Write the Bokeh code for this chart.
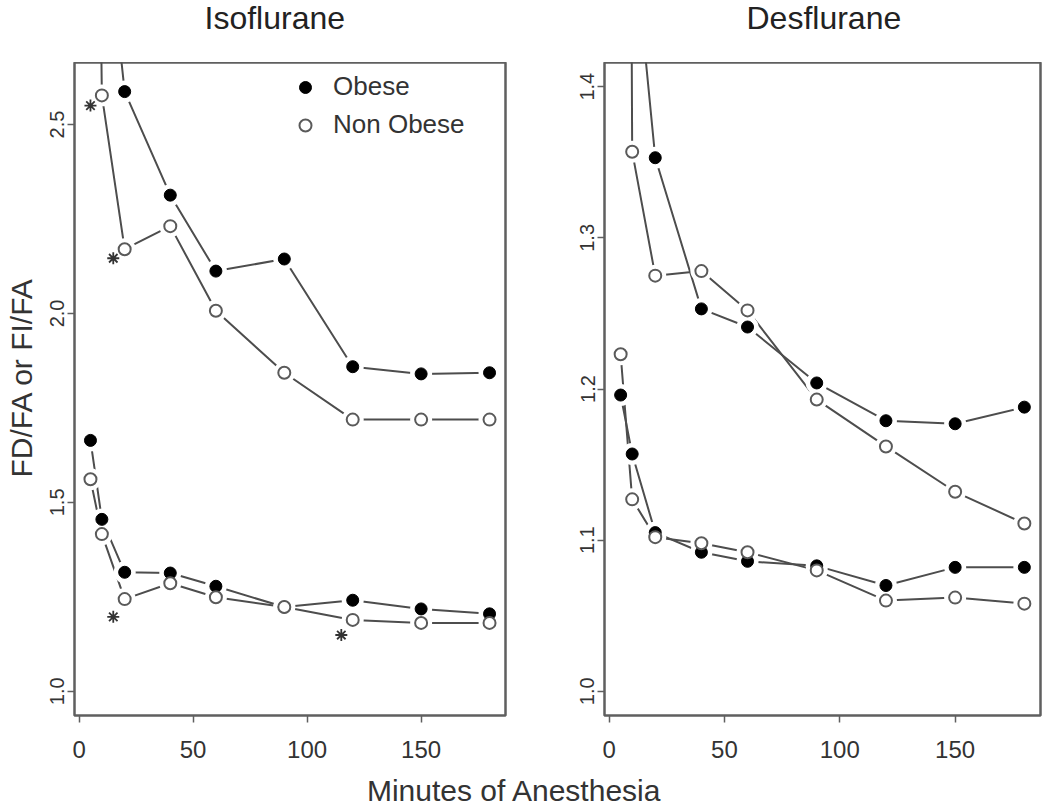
import math
from bokeh.plotting import figure
from bokeh.models import Range1d, FixedTicker, Legend, LegendItem, Label, NumeralTickFormatter
from bokeh.layouts import column, row
from bokeh.embed import file_html
from bokeh.resources import INLINE

# ---------------- data ----------------
minutes = [5, 10, 20, 40, 60, 90, 120, 150, 180]

iso_fi_obese = [5.5, 3.15, 2.587, 2.313, 2.112, 2.144, 1.859, 1.840, 1.843]
iso_fi_non = [5.0, 2.577, 2.170, 2.231, 2.007, 1.843, 1.719, 1.719, 1.719]
iso_fd_obese = [1.664, 1.455, 1.315, 1.313, 1.278, 1.223, 1.241, 1.218, 1.205]
iso_fd_non = [1.561, 1.416, 1.244, 1.286, 1.249, 1.223, 1.189, 1.181, 1.181]

des_fi_obese = [2.5, 1.51, 1.353, 1.253, 1.241, 1.204, 1.179, 1.177, 1.188]
des_fi_non = [3.0, 1.357, 1.275, 1.278, 1.252, 1.193, 1.162, 1.132, 1.111]
des_fd_obese = [1.196, 1.157, 1.105, 1.092, 1.086, 1.083, 1.070, 1.082, 1.082]
des_fd_non = [1.223, 1.127, 1.102, 1.098, 1.092, 1.080, 1.060, 1.062, 1.058]

iso_star_x = [5, 15, 15, 115]
iso_star_y = [2.55, 2.146, 1.197, 1.149]

x_ticks = [0, 50, 100, 150]
iso_y_ticks = [1.0, 1.5, 2.0, 2.5]
des_y_ticks = [1.0, 1.1, 1.2, 1.3, 1.4]
x_lim = (5, 180)
iso_y_lim = (1.0, 2.6)
des_y_lim = (1.0, 1.4)

titles = ["Isoflurane", "Desflurane"]
y_label = "FD/FA or FI/FA"
x_label = "Minutes of Anesthesia"
legend_labels = ["Obese", "Non Obese"]

FONT = "Liberation Sans"
LINE_C = "#4d4d4d"
OPEN_C = "#5a5a5a"
BOX_C = "#5f5f5f"
TOTAL_W = 1048
TOP_H = 62
FRAME_H = 653
BOTTOM_B = 53
YLAB_W = 40


def ext(lim):
    d = (lim[1] - lim[0]) * 0.04
    return Range1d(lim[0] - d, lim[1] + d)


def text_fig(w, h):
    f = figure(frame_width=w, frame_height=h, x_range=Range1d(0, w), y_range=Range1d(0, h),
               output_backend="svg", toolbar_location=None, min_border=0,
               background_fill_color="white", border_fill_color="white")
    f.axis.visible = False
    f.grid.visible = False
    f.outline_line_color = None
    return f


def panel(y_lim, y_ticks, series, b_left, b_right, f_width):
    p = figure(frame_width=f_width, frame_height=FRAME_H,
               x_range=ext(x_lim), y_range=ext(y_lim),
               output_backend="svg", toolbar_location=None,
               min_border_left=b_left, min_border_right=b_right,
               min_border_top=0, min_border_bottom=BOTTOM_B,
               background_fill_color="white", border_fill_color="white")
    p.grid.visible = False
    p.outline_line_color = BOX_C
    p.outline_line_width = 2.5

    for ax in (p.xaxis[0], p.yaxis[0]):
        ax.axis_line_color = None
        ax.major_tick_line_color = BOX_C
        ax.major_tick_line_width = 1.5
        ax.major_tick_out = 7
        ax.major_tick_in = 0
        ax.minor_tick_line_color = None
        ax.major_label_text_font = FONT
        ax.major_label_text_color = "#333333"
    p.xaxis.ticker = FixedTicker(ticks=x_ticks)
    p.xaxis.major_label_text_font_size = "24px"
    p.xaxis.major_label_standoff = 18
    p.yaxis.ticker = FixedTicker(ticks=y_ticks)
    p.yaxis.formatter = NumeralTickFormatter(format="0.0")
    p.yaxis.major_label_text_font_size = "20px"
    p.yaxis.major_label_orientation = "vertical"
    p.yaxis.major_label_standoff = 3

    # lines
    for ys in series:
        p.line(minutes, ys, line_color=LINE_C, line_width=2)
    # gaps around points (type="b")
    for ys in series:
        p.scatter(minutes, ys, size=22, fill_color="white", line_color=None)
    rend = {}
    for i, ys in enumerate(series):
        if i % 2 == 0:
            r = p.scatter(minutes, ys, size=12, fill_color="black", line_color="black")
            rend["ob"] = r
        else:
            r = p.scatter(minutes, ys, size=12, fill_color="white", line_color=OPEN_C, line_width=2)
            rend["non"] = r
    return p, rend


# titles strip
top = text_fig(TOTAL_W, TOP_H)
for t, tx in zip(titles, [204, 746]):
    top.add_layout(Label(x=tx, y=TOP_H - 17, text=t, text_font=FONT, text_font_size="32px",
                         text_color="#222222", text_baseline="middle", text_align="left"))

# y-axis label strip
ylab = text_fig(YLAB_W, FRAME_H + BOTTOM_B)
ylab.add_layout(Label(x=21, y=FRAME_H + BOTTOM_B + TOP_H - 377, angle=math.pi / 2,
                      text=y_label, text_font=FONT, text_font_size="30px", text_color="#333333",
                      text_align="center", text_baseline="middle"))

p1, r1 = panel(iso_y_lim, iso_y_ticks,
               [iso_fi_obese, iso_fi_non, iso_fd_obese, iso_fd_non], 74 - YLAB_W, 43, 431)
p1.scatter(iso_star_x, iso_star_y, marker="asterisk", size=12, line_color="#333333", line_width=1.8)

p2, r2 = panel(des_y_lim, des_y_ticks,
               [des_fi_obese, des_fi_non, des_fd_obese, des_fd_non], 56, 8, 436)

legend = Legend(items=[LegendItem(label=legend_labels[0], renderers=[r1["ob"]]),
                       LegendItem(label=legend_labels[1], renderers=[r1["non"]])],
                location=(216, 575), padding=0, margin=0, spacing=7,
                glyph_width=30, glyph_height=30, label_standoff=13,
                label_text_font=FONT, label_text_font_size="26px", label_text_color="#333333",
                border_line_color=None, background_fill_alpha=0)
p1.add_layout(legend)

lab = text_fig(TOTAL_W, 40)
lab.add_layout(Label(x=514, y=18, text=x_label, text_align="center", text_baseline="middle",
                     text_font=FONT, text_font_size="30px", text_color="#333333"))

layout = column(top, row(ylab, p1, p2, spacing=0), lab, spacing=0)
open("out.html", "w").write(file_html(layout, INLINE))
